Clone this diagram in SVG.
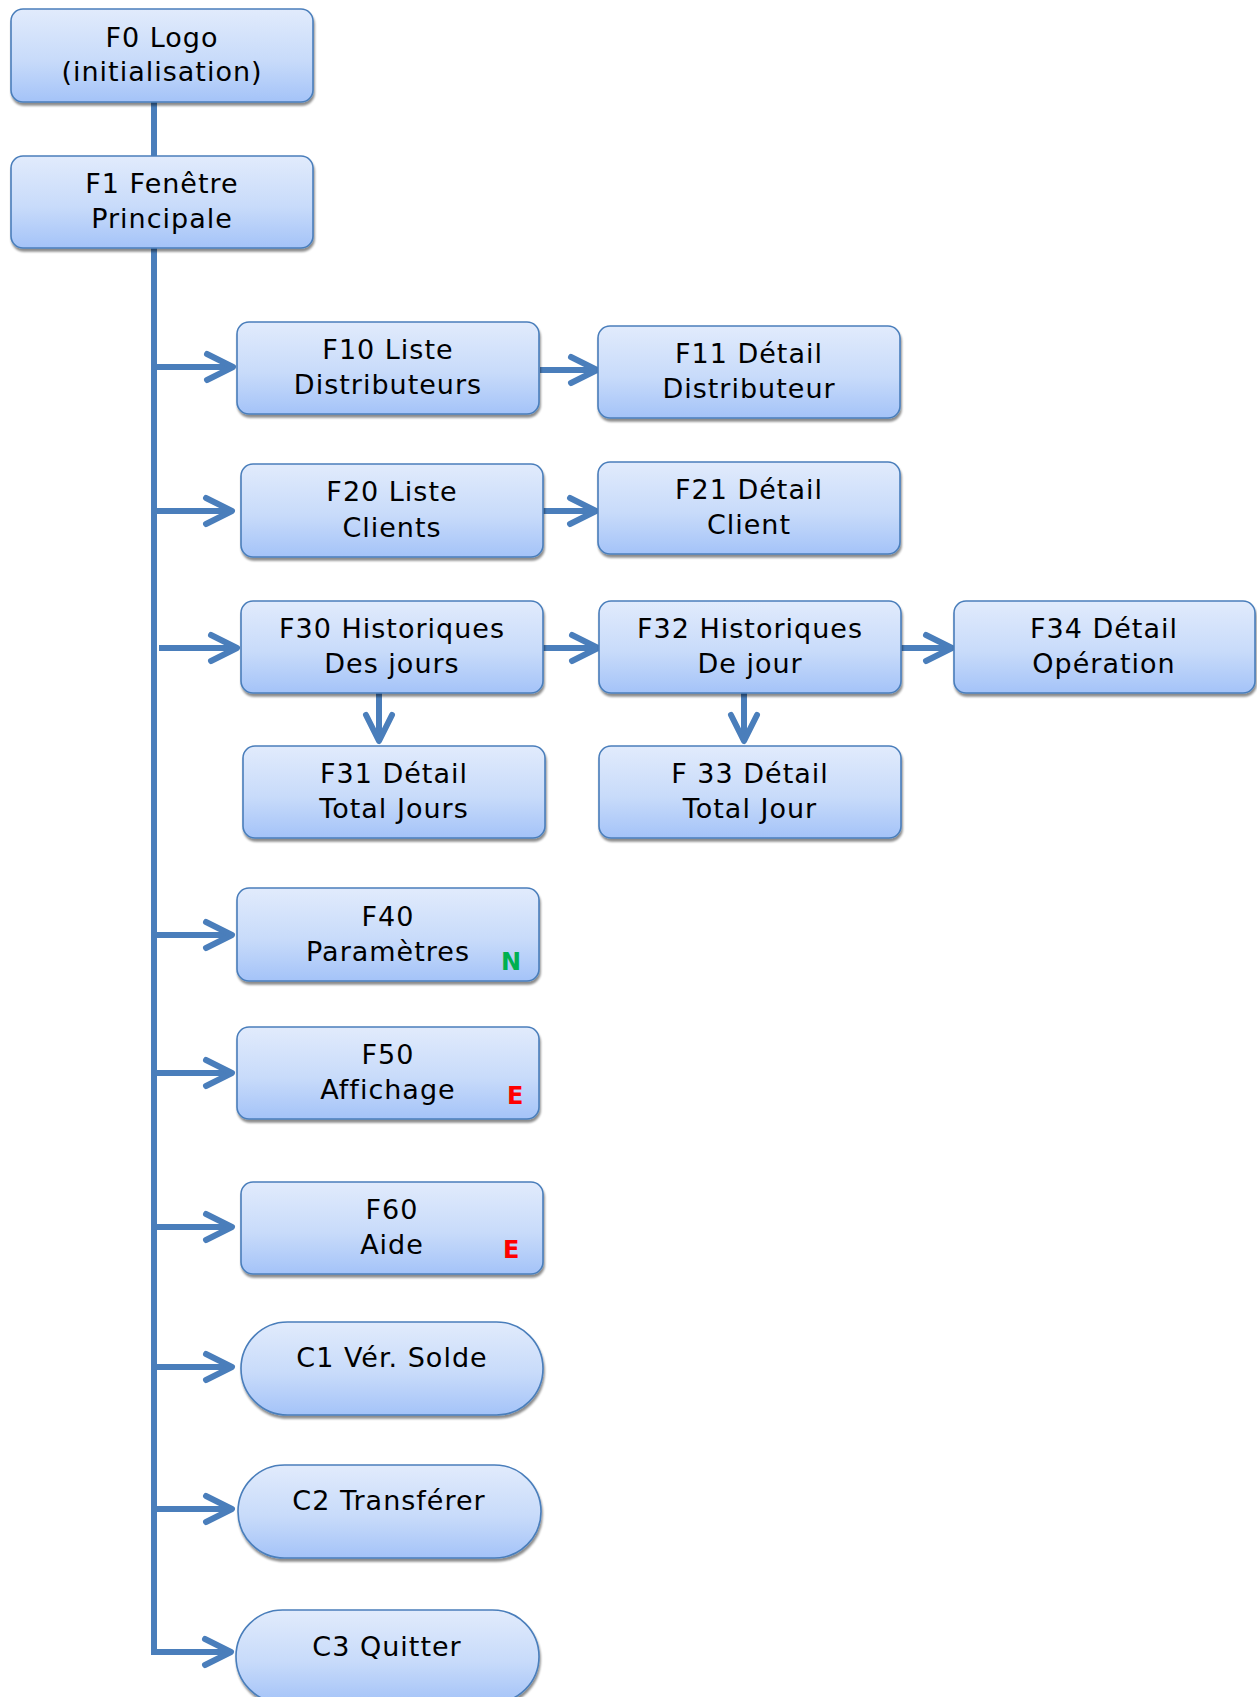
<svg xmlns="http://www.w3.org/2000/svg" width="1257" height="1697" viewBox="0 0 1257 1697">
<defs>
<linearGradient id="gBox" x1="0" y1="0" x2="0" y2="1">
<stop offset="0" stop-color="#E1EBFC"/>
<stop offset="0.55" stop-color="#C8DBFA"/>
<stop offset="1" stop-color="#A4C3F8"/>
</linearGradient>
<filter id="sh" x="-5%" y="-10%" width="115%" height="130%">
<feDropShadow dx="1" dy="3" stdDeviation="1.2" flood-color="#000" flood-opacity="0.45"/>
</filter>
<marker id="arr" markerUnits="userSpaceOnUse" viewBox="-34 -20 40 40" markerWidth="40" markerHeight="40" refX="0" refY="0" orient="auto">
<path d="M-26,-13 L0,0 L-26,13" fill="none" stroke="#4A7EBB" stroke-width="6" stroke-linecap="round" stroke-linejoin="round"/>
</marker>
</defs>
<style>
.box{fill:url(#gBox);stroke:#4A7EBB;stroke-width:1.6;filter:url(#sh)}
.t{font-family:"DejaVu Sans",Verdana,sans-serif;font-size:27px;letter-spacing:1px;fill:#000;text-anchor:middle}
.n{font-family:"DejaVu Sans",Verdana,sans-serif;font-size:24px;font-weight:bold;fill:#00B050}
.e{font-family:"DejaVu Sans",Verdana,sans-serif;font-size:24px;font-weight:bold;fill:#FF0000}
.c{fill:none;stroke:#4A7EBB;stroke-width:6}
.a{fill:none;stroke:#4A7EBB;stroke-width:6;marker-end:url(#arr)}
</style>
<rect width="1257" height="1697" fill="#FFFFFF"/>
<g id="connectors">
<line class="c" x1="154" y1="101" x2="154" y2="157"/>
<line class="c" x1="154" y1="247" x2="154" y2="1655"/>
<line class="a" x1="154" y1="367" x2="233" y2="367"/>
<line class="a" x1="154" y1="511" x2="232" y2="511"/>
<line class="a" x1="159" y1="648" x2="237" y2="648"/>
<line class="a" x1="154" y1="935" x2="232" y2="935"/>
<line class="a" x1="154" y1="1073" x2="232" y2="1073"/>
<line class="a" x1="154" y1="1227" x2="232" y2="1227"/>
<line class="a" x1="154" y1="1367" x2="232" y2="1367"/>
<line class="a" x1="154" y1="1509" x2="232" y2="1509"/>
<line class="a" x1="151" y1="1652" x2="231" y2="1652"/>
<line class="a" x1="540" y1="370" x2="597" y2="370"/>
<line class="a" x1="541" y1="511" x2="596" y2="511"/>
<line class="a" x1="543" y1="648" x2="598" y2="648"/>
<line class="a" x1="899" y1="648" x2="952" y2="648"/>
<line class="a" x1="379" y1="693" x2="379" y2="741"/>
<line class="a" x1="744" y1="693" x2="744" y2="741"/>
</g>
<g id="F0"><rect class="box" x="11" y="9" width="302" height="93" rx="12"/><text class="t" x="162" y="47">F0 Logo</text><text class="t" x="162" y="81">(initialisation)</text></g>
<g id="F1"><rect class="box" x="11" y="156" width="302" height="92" rx="12"/><text class="t" x="162" y="193">F1 Fenêtre</text><text class="t" x="162" y="228">Principale</text></g>
<g id="F10"><rect class="box" x="237" y="322" width="302" height="92" rx="12"/><text class="t" x="388" y="359">F10 Liste</text><text class="t" x="388" y="394">Distributeurs</text></g>
<g id="F11"><rect class="box" x="598" y="326" width="302" height="92" rx="12"/><text class="t" x="749" y="363">F11 Détail</text><text class="t" x="749" y="398">Distributeur</text></g>
<g id="F20"><rect class="box" x="241" y="464" width="302" height="93" rx="12"/><text class="t" x="392" y="501">F20 Liste</text><text class="t" x="392" y="537">Clients</text></g>
<g id="F21"><rect class="box" x="598" y="462" width="302" height="92" rx="12"/><text class="t" x="749" y="499">F21 Détail</text><text class="t" x="749" y="534">Client</text></g>
<g id="F30"><rect class="box" x="241" y="601" width="302" height="92" rx="12"/><text class="t" x="392" y="638">F30 Historiques</text><text class="t" x="392" y="673">Des jours</text></g>
<g id="F32"><rect class="box" x="599" y="601" width="302" height="92" rx="12"/><text class="t" x="750" y="638">F32 Historiques</text><text class="t" x="750" y="673">De jour</text></g>
<g id="F34"><rect class="box" x="954" y="601" width="301" height="92" rx="12"/><text class="t" x="1104" y="638">F34 Détail</text><text class="t" x="1104" y="673">Opération</text></g>
<g id="F31"><rect class="box" x="243" y="746" width="302" height="92" rx="12"/><text class="t" x="394" y="783">F31 Détail</text><text class="t" x="394" y="818">Total Jours</text></g>
<g id="F33"><rect class="box" x="599" y="746" width="302" height="92" rx="12"/><text class="t" x="750" y="783">F 33 Détail</text><text class="t" x="750" y="818">Total Jour</text></g>
<g id="F40"><rect class="box" x="237" y="888" width="302" height="93" rx="12"/><text class="t" x="388" y="926">F40</text><text class="t" x="388" y="961">Paramètres</text><text class="n" x="501" y="970">N</text></g>
<g id="F50"><rect class="box" x="237" y="1027" width="302" height="92" rx="12"/><text class="t" x="388" y="1064">F50</text><text class="t" x="388" y="1099">Affichage</text><text class="e" x="507" y="1104">E</text></g>
<g id="F60"><rect class="box" x="241" y="1182" width="302" height="92" rx="12"/><text class="t" x="392" y="1219">F60</text><text class="t" x="392" y="1254">Aide</text><text class="e" x="503" y="1258">E</text></g>
<g id="C1"><rect class="box" x="241" y="1322" width="302" height="93" rx="46.5"/><text class="t" x="392" y="1367">C1 Vér. Solde</text></g>
<g id="C2"><rect class="box" x="238" y="1465" width="303" height="93" rx="46.5"/><text class="t" x="389" y="1510">C2 Transférer</text></g>
<g id="C3"><rect class="box" x="236" y="1610" width="303" height="93" rx="46.5"/><text class="t" x="387" y="1656">C3 Quitter</text></g>
</svg>
